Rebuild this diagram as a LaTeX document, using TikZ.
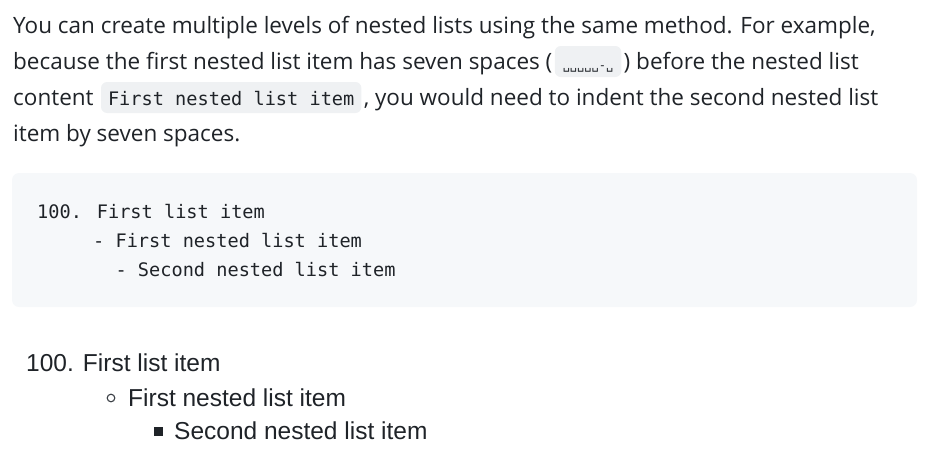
\documentclass[tikz,border=0pt]{standalone}
\usepackage{fontspec}
\setmainfont{Open Sans}
\newfontfamily\codefont{DejaVu Sans Mono}
\newfontfamily\listfont{Liberation Sans}
\definecolor{fg}{HTML}{1F2328}
\definecolor{inlinebg}{HTML}{EFF1F3}
\definecolor{blockbg}{HTML}{F6F8FA}
\definecolor{bulletgray}{HTML}{3A3F45}
\begin{document}
\begin{tikzpicture}[x=1pt,y=-1pt,
  para/.style={anchor=base west,inner sep=0pt,text=fg,font=\fontsize{22.5}{26}\selectfont},
  inlinecode/.style={anchor=base west,fill=inlinebg,rounded corners=6pt,inner xsep=7pt,inner ysep=0pt,
    text height=23pt,text depth=8pt,text=fg,font=\codefont\fontsize{18.6}{22}\selectfont},
  codeline/.style={anchor=base west,inner sep=0pt,text=fg,font=\codefont\fontsize{18.6}{22}\selectfont},
  listline/.style={anchor=base west,inner sep=0pt,text=fg,font=\listfont\fontsize{24.5}{28}\selectfont},
  codeblock/.style={fill=blockbg,rounded corners=7pt,draw=none}]
\useasboundingbox (0,0) rectangle (931,459);
% paragraph
\node[para] (p1) at (13,33) {You can create multiple levels of nested lists using the same method. For example,};
\node[para] (p2a) at (13,69) {because the first nested list item has seven spaces (};
\node[inlinecode,font=\codefont\fontsize{12}{14}\selectfont,inner xsep=8pt] (c1) at ([xshift=2pt]p2a.base east) {␣␣␣␣␣-␣};
\node[para] (p2b) at ([xshift=2pt]c1.base east) {) before the nested list};
\node[para] (p3a) at (13,105) {content};
\node[inlinecode] (c2) at ([xshift=7pt]p3a.base east) {First nested list item};
\node[para] (p3b) at ([xshift=2pt]c2.base east) {, you would need to indent the second nested list};
\node[para] (p4) at (13,141) {item by seven spaces.};
% code block
\path[codeblock] (12,173) rectangle (917,307);
\node[codeline] (k1) at (37,218) {100. First list item};
\node[codeline] (k2) at (37,247) {\ \ \ \ \ - First nested list item};
\node[codeline] (k3) at (37,276) {\ \ \ \ \ \ \ - Second nested list item};
% rendered list
\node[listline] (r1) at (26,371) {100. First list item};
\draw[bulletgray,line width=1.1pt] (111,398) circle (3.8);
\node[listline] (r2) at (128,406) {First nested list item};
\fill[fg] (153.5,427) rectangle (162.5,436);
\node[listline] (r3) at (174,439) {Second nested list item};
\end{tikzpicture}
\end{document}
